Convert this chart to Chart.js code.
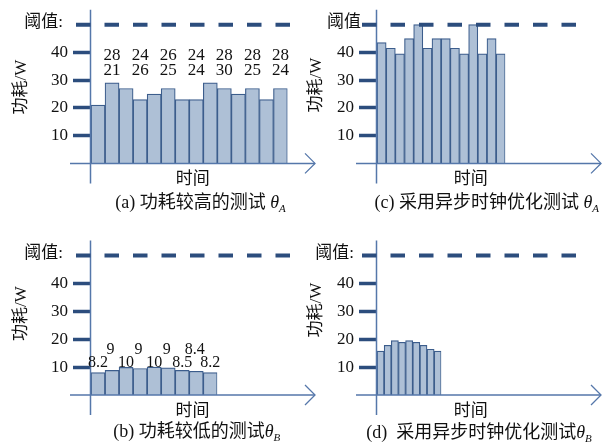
<!DOCTYPE html>
<html><head><meta charset="utf-8">
<script src="https://cdn.jsdelivr.net/npm/chart.js@4/dist/chart.umd.min.js"></script>
<style>
html,body{margin:0;padding:0;background:#fff;}
#wrap{position:relative;width:603px;height:442px;overflow:hidden;}
canvas{position:absolute;left:0;top:0;}
</style></head><body>
<div id="wrap">
<canvas id="ca" width="603" height="442"></canvas>
<canvas id="cc" width="603" height="442"></canvas>
<canvas id="cb" width="603" height="442"></canvas>
<canvas id="cd" width="603" height="442"></canvas>
</div>
<script>
// ---------- data ----------
const threshold = 50;
const yTicks = [10, 20, 30, 40];
const yMax = 55;

const catsA = ['1','2','3','4','5','6','7','8','9','10','11','12','13','14'];
const valuesA = [21, 29, 27, 23, 25, 27, 23, 23, 29, 27, 25, 27, 23, 27];
const labelIdxA = [1, 3, 5, 7, 9, 11, 13];
const labelsTopA = ['28', '24', '26', '24', '28', '28', '28'];
const labelsBotA = ['21', '26', '25', '24', '30', '25', '24'];

const catsC = ['1','2','3','4','5','6','7','8','9','10','11','12','13','14'];
const valuesC = [43.5, 41.5, 39.5, 45, 50, 41.5, 45, 45, 41.5, 39.5, 50, 39.5, 45, 39.5];

const catsB = ['1','2','3','4','5','6','7','8','9'];
const valuesB = [8, 8.8, 9.9, 9.5, 10, 9.7, 8.8, 8.5, 8];
const labelsB = ['8.2', '9', '10', '9', '10', '9', '8.5', '8.4', '8.2'];

const catsD = ['1','2','3','4','5','6','7','8','9'];
const valuesD = [15.7, 17.8, 19.5, 18.9, 19.5, 18.9, 17.8, 16.4, 15.7];

const yTitle = '功耗/W';
const xTitle = '时间';
const thrText = '阈值:';

// ---------- style ----------
const SERIF = '"Liberation Serif","Noto Sans CJK SC"';
const barFill = '#aec0d6';
const barBorder = '#3c5d8c';
const dashColor = '#2c4d7d';
const axisColor = '#5577aa';
const YW = 60;

function drawRich(ctx, segs, cx, cy) {
  let w = 0;
  segs.forEach(s => { ctx.font = s.font; w += ctx.measureText(s.t).width; });
  let x = cx - w / 2;
  ctx.textAlign = 'left';
  ctx.textBaseline = 'alphabetic';
  segs.forEach(s => {
    ctx.font = s.font;
    ctx.fillText(s.t, x, cy + (s.dy || 0));
    x += ctx.measureText(s.t).width;
  });
}

const decoPlugin = {
  id: 'deco',
  afterDatasetsDraw(chart) {
    const o = chart.options.plugins.deco;
    const {ctx, chartArea: a, scales: {x, y}} = chart;
    const y0 = y.getPixelForValue(0);
    const L = a.left - 0.5;
    ctx.save();
    // axes
    ctx.strokeStyle = axisColor;
    ctx.lineWidth = 1.5;
    ctx.beginPath();
    ctx.moveTo(L, a.top - 1); ctx.lineTo(L, a.bottom + 20);
    ctx.moveTo(a.left - 21, y0); ctx.lineTo(a.left + 224, y0);
    ctx.stroke();
    const tip = a.left + 224;
    ctx.lineWidth = 1.3;
    ctx.beginPath();
    ctx.moveTo(tip - 10, y0 - 10); ctx.lineTo(tip, y0); ctx.lineTo(tip - 10, y0 + 10);
    ctx.stroke();
    // threshold
    const yt = y.getPixelForValue(threshold);
    ctx.strokeStyle = dashColor;
    ctx.lineWidth = 4;
    ctx.setLineDash([14.5, 14]);
    ctx.beginPath();
    ctx.moveTo(a.left - 15, yt); ctx.lineTo(a.left + 204, yt);
    ctx.stroke();
    ctx.setLineDash([]);
    ctx.fillStyle = '#111';
    ctx.font = '17px ' + SERIF;
    ctx.textAlign = 'right';
    ctx.textBaseline = 'middle';
    ctx.fillText(o.thr, o.thrX, yt - 2);
    // titles
    ctx.textAlign = 'center';
    ctx.fillText(xTitle, o.xtX, o.xtY);
    ctx.save();
    ctx.translate(o.ytX, o.ytY);
    ctx.rotate(-Math.PI / 2);
    ctx.fillText(yTitle, 0, 0);
    ctx.restore();
    // caption
    drawRich(ctx, [
      {t: o.cap, font: '18px ' + SERIF},
      {t: 'θ', font: 'italic 18px "Liberation Serif"'},
      {t: o.sub, font: 'italic 11px "Liberation Serif"', dy: 4}
    ], o.capX, o.capY);
    // value labels
    ctx.textAlign = 'center';
    ctx.textBaseline = 'middle';
    if (o.pairs) {
      ctx.font = '17px "Liberation Serif"';
      o.pairs.idx.forEach((bi, k) => {
        const px = x.getPixelForValue(bi);
        ctx.fillText(o.pairs.top[k], px, a.top + 44.5);
        ctx.fillText(o.pairs.bot[k], px, a.top + 60);
      });
    }
    if (o.alt) {
      ctx.font = '16px "Liberation Serif"';
      o.alt.forEach((t, i) => {
        const px = x.getPixelForValue(i) + (i % 2 ? -1.5 : 0);
        ctx.fillText(t, px, i % 2 ? a.bottom - 45 : a.bottom - 32);
      });
    }
    ctx.restore();
  }
};

function makeChart(id, cats, values, area, deco) {
  return new Chart(document.getElementById(id), {
    type: 'bar',
    data: {
      labels: cats,
      datasets: [{
        data: values,
        backgroundColor: barFill,
        borderColor: barBorder,
        borderWidth: 1.2,
        categoryPercentage: 1,
        barPercentage: 1
      }]
    },
    options: {
      responsive: false,
      animation: false,
      events: [],
      devicePixelRatio: 1,
      layout: {
        padding: {
          left: area.left - YW,
          right: 603 - area.right,
          top: area.top,
          bottom: 442 - area.bottom
        }
      },
      plugins: {legend: {display: false}, tooltip: {enabled: false}, deco: deco},
      scales: {
        x: {display: false},
        y: {
          min: 0, max: yMax,
          afterFit(s) { s.width = YW; s.paddingTop = 0; s.paddingBottom = 0; },
          afterBuildTicks(s) { s.ticks = yTicks.map(v => ({value: v})); },
          border: {display: false},
          grid: {drawOnChartArea: false, drawTicks: true, tickLength: 18, tickWidth: 3.5, tickColor: dashColor},
          ticks: {padding: 5, color: '#111', font: {family: '"Liberation Serif"', size: 17}}
        }
      }
    },
    plugins: [decoPlugin]
  });
}

const topY = 163.4 - yMax * 2.775;
const botTopY = 395 - yMax * 2.79;

makeChart('ca', catsA, valuesA, {left: 91, right: 287.5, top: topY, bottom: 163.4}, {
  thr: thrText, thrX: 63, xtX: 192.7, xtY: 180, ytX: 22, ytY: 87,
  cap: '(a) 功耗较高的测试 ', sub: 'A', capX: 200.5, capY: 208,
  pairs: {idx: labelIdxA, top: labelsTopA, bot: labelsBotA}
});
makeChart('cc', catsC, valuesC, {left: 377, right: 505.3, top: topY, bottom: 163.4}, {
  thr: '阈值', thrX: 361, xtX: 470.7, xtY: 180, ytX: 316.5, ytY: 85,
  cap: '(c) 采用异步时钟优化测试 ', sub: 'A', capX: 486.7, capY: 208
});
makeChart('cb', catsB, valuesB, {left: 91, right: 217.3, top: botTopY, bottom: 395}, {
  thr: thrText, thrX: 63, xtX: 192.5, xtY: 411.7, ytX: 22, ytY: 313.5,
  cap: '(b) 功耗较低的测试', sub: 'B', capX: 196.7, capY: 437,
  alt: labelsB
});
makeChart('cd', catsD, valuesD, {left: 377, right: 441.3, top: botTopY, bottom: 395}, {
  thr: thrText, thrX: 354, xtX: 470.7, xtY: 411.7, ytX: 316.5, ytY: 310,
  cap: '(d)  采用异步时钟优化测试', sub: 'B', capX: 479, capY: 438
});
</script>
</body></html>
